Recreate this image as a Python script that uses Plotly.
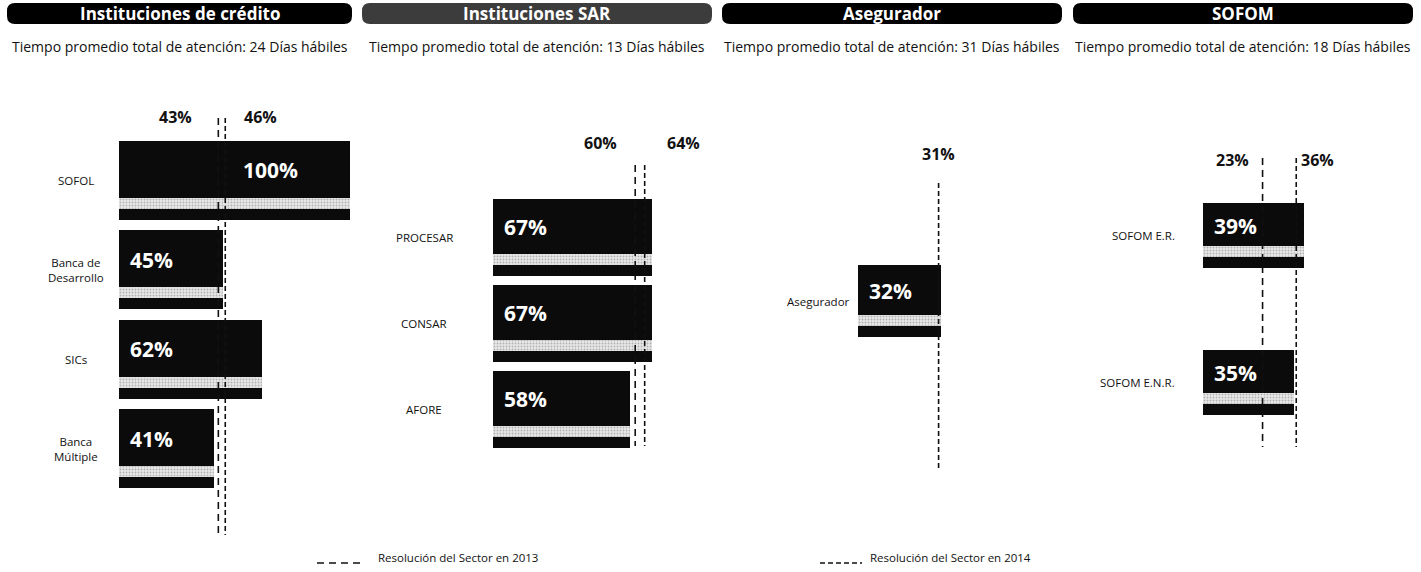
import plotly.graph_objects as go

W, H = 1421, 572

# ---- data -------------------------------------------------------------
titles = ["Instituciones de crédito", "Instituciones SAR", "Asegurador", "SOFOM"]
dias = [24, 13, 31, 18]

cred_cats = ["SOFOL", "Banca de<br>Desarrollo", "SICs", "Banca<br>Múltiple"]
cred_vals = [100, 45, 62, 41]
sar_cats = ["PROCESAR", "CONSAR", "AFORE"]
sar_vals = [67, 67, 58]
aseg_cats = ["Asegurador"]
aseg_vals = [32]
sofom_cats = ["SOFOM E.R.", "SOFOM E.N.R."]
sofom_vals = [39, 35]

sector_2013 = [43, 60, None, 23]
sector_2014 = [46, 64, 31, 36]

# ---- layout per panel (pixels) ---------------------------------------
panels = [
    dict(cats=cred_cats, vals=cred_vals, x0=119, scale=2.31, c0=180, step=89.5, bar_h=79,
         box=(7, 352), line_y=(118, 535), lab_y=117, sh13=-24, sh14=17,
         cat_x=76, cat_anchor="center", val_pos={"SOFOL": 53}),
    dict(cats=sar_cats, vals=sar_vals, x0=493, scale=2.37, c0=237, step=86, bar_h=77,
         box=(362, 712), line_y=(165, 446), lab_y=143, sh13=-16, sh14=20,
         cat_x=424, cat_anchor="center", val_pos={}),
    dict(cats=aseg_cats, vals=aseg_vals, x0=858, scale=2.6, c0=301, step=86, bar_h=72,
         box=(722, 1062), line_y=(183, 470), lab_y=154, sh13=0, sh14=0,
         cat_x=852, cat_anchor="right", val_pos={}),
    dict(cats=sofom_cats, vals=sofom_vals, x0=1203, scale=2.59, c0=235.5, step=147, bar_h=65,
         box=(1073, 1413), line_y=(158, 447), lab_y=160, sh13=-12, sh14=3,
         cat_x=1177, cat_anchor="right", val_pos={}),
]

FONT = "Open Sans"
INK = "#111111"


def px(x):
    return x / W


def py(y):
    return 1 - y / H


def rounded_path(x0, y0, x1, y1, r):
    pts = [
        ("M", [(x0 + r, y0)]), ("L", [(x1 - r, y0)]), ("Q", [(x1, y0), (x1, y0 + r)]),
        ("L", [(x1, y1 - r)]), ("Q", [(x1, y1), (x1 - r, y1)]), ("L", [(x0 + r, y1)]),
        ("Q", [(x0, y1), (x0, y1 - r)]), ("L", [(x0, y0 + r)]), ("Q", [(x0, y0), (x0 + r, y0)]),
    ]
    s = ""
    for cmd, ps in pts:
        s += cmd + " " + " ".join(f"{px(a):.5f},{py(b):.5f}" for a, b in ps) + " "
    return s + "Z"


fig = go.Figure()
shapes, annotations = [], []
layout_axes = {}

for i, p in enumerate(panels):
    n = i + 1
    xa = "x" if n == 1 else f"x{n}"
    ya = "y" if n == 1 else f"y{n}"
    xkey = "xaxis" if n == 1 else f"xaxis{n}"
    ykey = "yaxis" if n == 1 else f"yaxis{n}"

    width = p["bar_h"] / p["step"]
    band_px = 11
    stripe_px = 11
    # bar body
    fig.add_trace(go.Bar(
        x=p["vals"], y=p["cats"], orientation="h", xaxis=xa, yaxis=ya,
        width=width, marker=dict(color="#0b0b0b", line=dict(width=0)),
        hoverinfo="skip", showlegend=False,
    ))
    # light textured stripe near the bottom of each bar
    fig.add_trace(go.Bar(
        x=p["vals"], y=p["cats"], orientation="h", xaxis=xa, yaxis=ya,
        width=stripe_px / p["step"],
        offset=(p["bar_h"] / 2 - band_px - stripe_px) / p["step"],
        marker=dict(color="#d9d9d9", line=dict(width=0),
                    pattern=dict(shape=".", fgcolor="#7a7a7a", bgcolor="#e8e8e8",
                                 size=3, solidity=0.3)),
        hoverinfo="skip", showlegend=False,
    ))

    layout_axes[xkey] = dict(domain=[px(p["x0"]), 1], range=[0, (W - p["x0"]) / p["scale"]],
                             visible=False, fixedrange=True)
    if n > 1:
        layout_axes[xkey]["anchor"] = ya
    top = -p["c0"] / p["step"]
    bottom = (H - p["c0"]) / p["step"]
    layout_axes[ykey] = dict(domain=[0, 1], type="category", categoryorder="array",
                             categoryarray=p["cats"], range=[bottom, top],
                             visible=False, fixedrange=True)
    if n > 1:
        layout_axes[ykey]["anchor"] = xa

    # header pill
    b0, b1 = p["box"]
    shapes.append(dict(type="path", xref="paper", yref="paper",
                       path=rounded_path(b0, 3, b1, 24, 8),
                       fillcolor="#000000" if n != 2 else "#3c3c3c",
                       line=dict(width=0), layer="below"))
    annotations.append(dict(xref="paper", yref="paper", x=px((b0 + b1) / 2), y=py(13.5),
                            text=f"<b>{titles[i]}</b>", showarrow=False,
                            font=dict(family=FONT, size=17, color="white"),
                            xanchor="center", yanchor="middle"))
    annotations.append(dict(xref="paper", yref="paper", x=px((b0 + b1) / 2), y=py(46),
                            text=f"Tiempo promedio total de atención: {dias[i]} Días hábiles",
                            showarrow=False, font=dict(family=FONT, size=14, color=INK),
                            xanchor="center", yanchor="middle"))

    # sector reference lines
    ly0, ly1 = p["line_y"]
    for val, dash, sh in ((sector_2013[i], "7px,5px", p["sh13"]),
                          (sector_2014[i], "5px,3px", p["sh14"])):
        if val is None:
            continue
        shapes.append(dict(type="line", xref=xa, yref="paper", x0=val, x1=val,
                           y0=py(ly0), y1=py(ly1),
                           line=dict(color="#111111", width=1.6, dash=dash)))
        anchor = "right" if sh < 0 else ("left" if sh > 0 else "center")
        annotations.append(dict(xref=xa, yref="paper", x=val, y=py(p["lab_y"]),
                                text=f"<b>{val}%</b>", showarrow=False, xshift=sh,
                                xanchor=anchor, yanchor="middle",
                                font=dict(family=FONT, size=16, color=INK)))

    # category names and value labels
    for cat, val in zip(p["cats"], p["vals"]):
        annotations.append(dict(xref="paper", yref=ya, x=px(p["cat_x"]), y=cat,
                                text=cat, showarrow=False, xanchor=p["cat_anchor"],
                                yanchor="middle", align="center",
                                font=dict(family=FONT, size=11.5, color=INK)))
        pos = p["val_pos"].get(cat)
        annotations.append(dict(xref=xa, yref=ya, x=pos if pos is not None else 0, y=cat,
                                text=f"<b>{val}%</b>", showarrow=False,
                                xshift=0 if pos is not None else 9, yshift=10,
                                xanchor="left", yanchor="middle",
                                font=dict(family=FONT, size=21, color="white")))

# legend
for (lx0, lx1, tx, dash, label) in ((317, 362, 376, "7px,5px", "Resolución del Sector en 2013"),
                                     (820, 862, 868, "5px,3px", "Resolución del Sector en 2014")):
    shapes.append(dict(type="line", xref="paper", yref="paper", x0=px(lx0), x1=px(lx1),
                       y0=py(563), y1=py(563), line=dict(color="#111111", width=1.6, dash=dash)))
    annotations.append(dict(xref="paper", yref="paper", x=px(tx), y=py(557), text=label,
                            showarrow=False, xanchor="left", yanchor="middle",
                            font=dict(family=FONT, size=11.5, color=INK)))

fig.update_layout(
    width=W, height=H, margin=dict(l=0, r=0, t=0, b=0),
    paper_bgcolor="white", plot_bgcolor="rgba(0,0,0,0)",
    barmode="overlay", bargap=0, showlegend=False,
    shapes=shapes, annotations=annotations,
    font=dict(family=FONT, color=INK),
    **layout_axes,
)

fig.write_html("out.html", config={"displayModeBar": False})
